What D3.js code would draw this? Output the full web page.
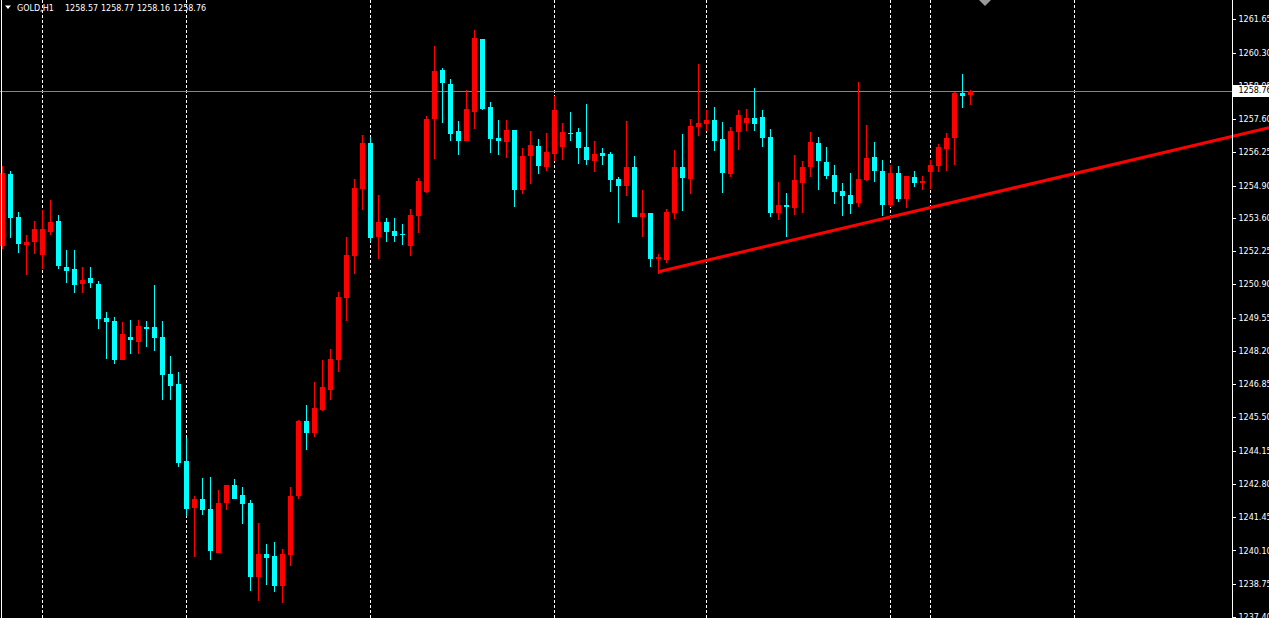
<!DOCTYPE html>
<html><head><meta charset="utf-8">
<script src="https://cdn.jsdelivr.net/npm/d3@7"></script>
<style>html,body{margin:0;padding:0;background:#000;overflow:hidden}</style>
</head><body>
<svg id="c" width="1269" height="618"></svg>
<script>
// ---- data (GOLD, H1) ----
const opens = [1252.47,1255.38,1253.64,1252.51,1252.63,1252.10,1253.03,1253.48,1251.62,1251.50,
1250.93,1251.17,1250.93,1249.55,1249.39,1247.81,1248.78,1248.54,1249.15,1249.15,
1248.78,1247.24,1246.84,1243.72,1241.82,1242.18,1241.78,1239.99,1242.02,1242.75,
1242.34,1242.02,1239.02,1239.95,1239.87,1238.66,1239.91,1242.30,1245.34,1244.85,
1245.78,1246.59,1247.81,1250.36,1252.06,1254.78,1256.64,1252.83,1253.44,1253.07,
1252.95,1252.47,1253.68,1254.65,1257.61,1259.60,1259.03,1257.12,1256.72,1257.89,
1260.85,1258.10,1256.84,1256.68,1257.17,1254.74,1256.11,1256.52,1255.67,1256.19,
1256.48,1257.04,1257.08,1256.48,1255.91,1256.23,1256.19,1255.18,1254.90,1255.67,
1253.64,1253.80,1251.94,1251.90,1253.80,1255.67,1255.18,1257.29,1257.41,1257.57,
1256.80,1255.38,1257.08,1257.45,1257.65,1257.69,1256.88,1253.80,1254.13,1254.01,
1255.02,1255.67,1256.64,1255.87,1255.34,1254.69,1254.53,1254.21,1255.14,1256.07,
1255.50,1254.13,1255.42,1254.37,1255.26,1255.02,1255.46,1255.71,1256.40,1256.84,
1258.66,1258.57];
const highs = [1255.71,1255.50,1253.84,1252.91,1253.48,1253.93,1254.33,1253.72,1252.31,1252.31,
1251.58,1251.58,1251.05,1249.79,1249.59,1249.35,1249.43,1249.47,1249.39,1250.89,
1249.39,1247.97,1247.32,1244.65,1242.30,1243.03,1243.07,1242.54,1242.75,1242.99,
1242.67,1242.14,1241.21,1240.36,1240.44,1240.16,1242.67,1245.38,1245.99,1246.92,
1247.81,1248.26,1250.60,1252.83,1255.18,1256.96,1256.88,1254.53,1253.60,1253.60,
1253.36,1253.97,1255.22,1257.73,1260.57,1259.68,1259.23,1257.53,1258.79,1261.22,
1260.85,1258.30,1257.57,1257.57,1257.17,1256.44,1257.12,1256.80,1257.04,1258.54,
1257.45,1257.89,1257.25,1258.22,1256.72,1256.44,1256.27,1255.26,1257.53,1256.11,
1254.74,1253.80,1252.14,1253.97,1256.36,1257.00,1257.61,1259.84,1257.98,1258.10,
1257.49,1257.29,1257.98,1258.02,1258.87,1257.98,1257.21,1255.06,1254.61,1256.15,
1255.91,1257.08,1256.88,1256.48,1255.75,1255.02,1255.42,1259.11,1257.37,1256.68,
1255.95,1255.75,1255.71,1255.30,1255.50,1255.30,1255.95,1256.60,1257.04,1258.70,
1259.43,1258.77];
const lows = [1252.35,1252.79,1252.18,1251.29,1252.14,1251.50,1252.91,1251.50,1250.97,1250.56,
1250.56,1250.73,1249.07,1247.85,1247.65,1247.81,1248.09,1248.09,1248.34,1248.21,
1246.19,1246.19,1243.48,1241.49,1239.83,1241.53,1239.71,1239.99,1241.73,1242.18,
1241.17,1238.45,1238.05,1238.70,1238.41,1237.97,1239.47,1242.18,1244.16,1244.69,
1245.74,1246.19,1247.32,1249.39,1251.33,1253.93,1252.67,1251.94,1252.63,1252.63,
1252.51,1252.06,1252.99,1254.61,1255.99,1257.45,1256.72,1256.15,1256.72,1257.21,
1257.98,1256.23,1256.15,1256.03,1254.05,1254.57,1254.98,1255.38,1255.50,1255.91,
1255.95,1256.72,1255.79,1255.75,1255.46,1255.75,1254.65,1253.40,1254.49,1253.64,
1252.83,1251.58,1251.33,1251.78,1253.56,1253.88,1254.57,1256.92,1257.12,1256.31,
1254.61,1255.26,1256.36,1257.12,1257.12,1256.48,1253.64,1253.52,1252.83,1253.72,
1253.80,1255.26,1254.74,1255.18,1254.17,1253.68,1253.76,1254.05,1255.10,1255.06,
1253.68,1254.05,1254.25,1254.01,1254.86,1254.74,1254.78,1255.46,1255.50,1255.75,
1258.06,1258.16];
const closes = [1255.42,1253.60,1252.55,1252.63,1253.16,1253.16,1253.44,1251.66,1251.45,1250.89,
1251.09,1250.97,1249.51,1249.35,1247.81,1248.90,1248.62,1249.19,1249.07,1248.70,
1247.20,1246.76,1243.64,1241.78,1242.18,1241.73,1240.07,1242.02,1242.75,1242.18,
1241.98,1239.02,1239.95,1239.79,1238.66,1239.95,1242.30,1245.34,1244.85,1245.87,
1246.72,1247.85,1250.40,1252.10,1254.82,1256.64,1252.79,1253.44,1253.03,1252.87,
1252.91,1253.72,1255.10,1257.61,1259.55,1259.07,1257.00,1256.72,1258.02,1260.89,
1258.02,1256.80,1256.72,1257.17,1254.74,1256.11,1256.56,1255.71,1256.27,1257.98,
1257.08,1257.00,1256.44,1255.95,1256.19,1256.11,1255.14,1254.90,1255.67,1253.64,
1253.80,1251.94,1252.02,1253.84,1255.67,1255.22,1257.33,1257.45,1257.57,1256.72,
1255.42,1257.12,1257.77,1257.65,1257.41,1256.84,1253.80,1254.13,1254.05,1255.14,
1255.67,1256.68,1255.91,1255.30,1254.65,1254.49,1254.17,1255.18,1256.03,1255.50,
1254.13,1255.42,1254.37,1255.30,1255.02,1255.10,1255.75,1256.48,1256.84,1258.66,
1258.54,1258.76];
const yTickLabels = ["1261.65","1260.30","1258.95","1257.60","1256.25","1254.90","1253.60","1252.25",
"1250.90","1249.55","1248.20","1246.85","1245.50","1244.15","1242.80","1241.45","1240.10","1238.75","1237.40"];
const separatorBars = [5,23,46,69,88,111,116,134];
const symbolName = "GOLD,H1";
const lastQuote = ["1258.57","1258.77","1258.16","1258.76"];
const bidPrice = 1258.76;
const trendBars = [82,120];
const trendPrices = [1251.41,1254.32];

// ---- layout ----
const W = 1269, H = 618, axisX = 1232.5;
const UP = "#ff0000", DOWN = "#00ffff";
const svg = d3.select("#c");
svg.append("rect").attr("width",W).attr("height",H).attr("fill","#000");

const x = d3.scaleLinear().domain([0,150]).range([2.5,1202.5]);
const y = d3.scaleLinear().domain([1237.40,1261.65]).range([617,19.3]);

const plot = svg.append("g");

// period separators
plot.selectAll("line.sep").data(separatorBars).join("line")
  .attr("class","sep")
  .attr("x1",d=>x(d)).attr("x2",d=>x(d)).attr("y1",0).attr("y2",H)
  .attr("stroke","#fff").attr("stroke-width",1).attr("stroke-dasharray","3,2")
  .attr("shape-rendering","crispEdges");

// bid line
plot.append("line").attr("x1",0).attr("x2",axisX).attr("y1",Math.round(y(bidPrice))+0.5).attr("y2",Math.round(y(bidPrice))+0.5)
  .attr("stroke","#778899").attr("stroke-width",1).attr("shape-rendering","crispEdges");

// candles
const data = opens.map((o,i)=>({i,o,h:highs[i],l:lows[i],c:closes[i]}));
const g = plot.selectAll("g.candle").data(data).join("g").attr("class","candle");
g.append("line")
  .attr("x1",d=>x(d.i)).attr("x2",d=>x(d.i))
  .attr("y1",d=>Math.round(y(d.h))).attr("y2",d=>Math.round(y(d.l)))
  .attr("stroke",d=>d.c>=d.o?UP:DOWN).attr("stroke-width",1).attr("shape-rendering","crispEdges");
g.append("rect")
  .attr("x",d=>x(d.i)-2.5).attr("width",5)
  .attr("y",d=>Math.round(y(Math.max(d.o,d.c))))
  .attr("height",d=>Math.max(1,Math.round(y(Math.min(d.o,d.c)))-Math.round(y(Math.max(d.o,d.c)))))
  .attr("fill",d=>d.c>=d.o?UP:DOWN).attr("shape-rendering","crispEdges");

// trend line (ray to right edge)
const tx0 = x(trendBars[0]), ty0 = y(trendPrices[0]);
const tx1 = x(trendBars[1]), ty1 = y(trendPrices[1]);
const slope = (ty1-ty0)/(tx1-tx0);
plot.append("line").attr("x1",tx0).attr("y1",ty0).attr("x2",W).attr("y2",ty0+slope*(W-tx0))
  .attr("stroke","#ff0000").attr("stroke-width",3);

// right price axis
svg.append("line").attr("x1",axisX).attr("x2",axisX).attr("y1",0).attr("y2",H)
  .attr("stroke","#fff").attr("stroke-width",1).attr("shape-rendering","crispEdges");
const axis = d3.axisRight(y).tickValues(yTickLabels.map(Number)).tickSize(3).tickSizeOuter(0).tickPadding(3)
  .tickFormat((d,i)=>yTickLabels[i]);
const ag = svg.append("g").attr("transform",`translate(${axisX},0)`).call(axis);
ag.select(".domain").remove();
ag.selectAll(".tick line").attr("stroke","#fff").attr("shape-rendering","crispEdges");
ag.selectAll(".tick text").attr("fill","#fff").attr("font-family","'DejaVu Sans', sans-serif").attr("font-size","8px");

// bid price label
const by = y(bidPrice);
svg.append("rect").attr("x",axisX+0.5).attr("y",Math.round(by)-6).attr("width",W-axisX).attr("height",12).attr("fill","#fff");
svg.append("text").attr("x",axisX+6).attr("y",by).attr("dy","0.32em").attr("fill","#000")
  .attr("font-family","'DejaVu Sans', sans-serif").attr("font-size","8px").text(bidPrice.toFixed(2));

// left border
svg.append("line").attr("x1",1.5).attr("x2",1.5).attr("y1",0).attr("y2",H).attr("stroke","#fff").attr("stroke-width",1);

// chart shift marker
svg.append("path").attr("d","M979,0 L991,0 L985,6 Z").attr("fill","#9a9a9a");

// title
svg.append("path").attr("d","M5,5.5 L11,5.5 L8,9 Z").attr("fill","#fff");
const title = svg.append("text").attr("y",11).attr("fill","#fff")
  .attr("font-family","'DejaVu Sans', sans-serif").attr("font-size","8px");
title.append("tspan").attr("x",17).text(symbolName);
lastQuote.forEach((q,i)=>title.append("tspan").attr("x",65+36*i).text(q));
</script>
</body></html>
